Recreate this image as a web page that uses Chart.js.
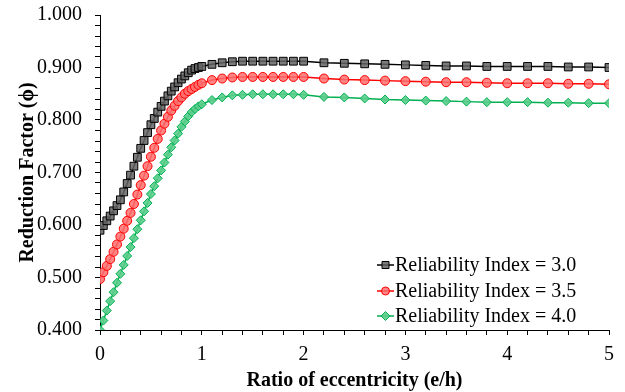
<!DOCTYPE html>
<html>
<head>
<meta charset="utf-8">
<script src="https://cdn.jsdelivr.net/npm/chart.js@4/dist/chart.umd.min.js"></script>
<style>
  html, body { margin: 0; padding: 0; background: #fff; }
  #wrap { width: 625px; height: 392px; position: relative; }
</style>
</head>
<body>
<div id="wrap"><canvas id="chart" width="625" height="392"></canvas></div>
<script>
// e/h values shared by all three curves
const eccentricity = [
  0, 0.033, 0.067, 0.1, 0.133, 0.167, 0.2, 0.233, 0.267, 0.3, 0.333, 0.367, 0.4, 0.433, 0.467, 0.5,
  0.533, 0.567, 0.6, 0.633, 0.667, 0.7, 0.733, 0.767, 0.8, 0.833, 0.867, 0.9, 0.933, 0.967, 1.0,
  1.1, 1.2, 1.3, 1.4, 1.5, 1.6, 1.7, 1.8, 1.9, 2.0,
  2.2, 2.4, 2.6, 2.8, 3.0, 3.2, 3.4, 3.6, 3.8, 4.0, 4.2, 4.4, 4.6, 4.8, 5.0
];

const beta30 = [
  0.590, 0.599, 0.608, 0.617, 0.627, 0.637, 0.648, 0.663, 0.679, 0.695, 0.712, 0.729, 0.746, 0.761, 0.776, 0.791,
  0.803, 0.815, 0.826, 0.836, 0.846, 0.855, 0.863, 0.871, 0.878, 0.884, 0.890, 0.895, 0.898, 0.900, 0.902,
  0.906, 0.909, 0.911, 0.912, 0.912, 0.912, 0.912, 0.912, 0.912, 0.912,
  0.909, 0.908, 0.907, 0.906, 0.905, 0.904, 0.903, 0.903, 0.902, 0.902, 0.902, 0.902, 0.901, 0.901, 0.900
];

const beta35 = [
  0.497, 0.510, 0.522, 0.535, 0.549, 0.563, 0.578, 0.593, 0.608, 0.623, 0.640, 0.658, 0.676, 0.694, 0.712, 0.730,
  0.747, 0.764, 0.780, 0.793, 0.806, 0.818, 0.827, 0.836, 0.843, 0.850, 0.855, 0.859, 0.863, 0.867, 0.870,
  0.876, 0.879, 0.881, 0.882, 0.882, 0.882, 0.882, 0.882, 0.882, 0.882,
  0.879, 0.877, 0.876, 0.875, 0.874, 0.873, 0.872, 0.872, 0.871, 0.870, 0.870, 0.870, 0.869, 0.869, 0.868
];

const beta40 = [
  0.400, 0.418, 0.437, 0.455, 0.472, 0.490, 0.507, 0.524, 0.541, 0.558, 0.575, 0.592, 0.609, 0.626, 0.642, 0.659,
  0.674, 0.689, 0.704, 0.719, 0.734, 0.748, 0.761, 0.774, 0.787, 0.797, 0.807, 0.815, 0.821, 0.826, 0.830,
  0.838, 0.843, 0.847, 0.848, 0.849, 0.849, 0.849, 0.849, 0.849, 0.848,
  0.844, 0.843, 0.841, 0.839, 0.838, 0.837, 0.836, 0.835, 0.834, 0.834, 0.834, 0.833, 0.833, 0.832, 0.832
];

const seriesLabels = ['Reliability Index = 3.0', 'Reliability Index = 3.5', 'Reliability Index = 4.0'];

const FONT = "'Liberation Serif', 'Times New Roman', serif";

function pts(ys) {
  return eccentricity.map((x, i) => ({ x: x, y: ys[i] }));
}

function isMajor(v, step) {
  const k = v / step;
  return Math.abs(k - Math.round(k)) < 1e-6;
}

// legend drawn inside the plot, bottom right
const insideLegend = {
  id: 'insideLegend',
  afterDraw(chart) {
    const ctx = chart.ctx;
    const x0 = 377, textX = 395;
    const rows = [265, 291, 316];
    ctx.save();
    chart.data.datasets.forEach((ds, i) => {
      const y = rows[i];
      ctx.strokeStyle = ds.borderColor;
      ctx.lineWidth = 1.5;
      ctx.beginPath();
      ctx.moveTo(x0, y);
      ctx.lineTo(x0 + 17, y);
      ctx.stroke();
      ctx.fillStyle = ds.pointBackgroundColor;
      ctx.strokeStyle = ds.pointBorderColor;
      ctx.lineWidth = 1;
      const cx = x0 + 8.5;
      ctx.beginPath();
      if (ds.pointStyle === 'rect') {
        ctx.rect(cx - 3.5, y - 3.5, 7, 7);
      } else if (ds.pointStyle === 'circle') {
        ctx.arc(cx, y, 4, 0, Math.PI * 2);
      } else {
        ctx.moveTo(cx, y - 4.5);
        ctx.lineTo(cx + 4.5, y);
        ctx.lineTo(cx, y + 4.5);
        ctx.lineTo(cx - 4.5, y);
        ctx.closePath();
      }
      ctx.fill();
      ctx.stroke();
      ctx.fillStyle = '#000';
      ctx.font = '20px ' + FONT;
      ctx.textBaseline = 'middle';
      ctx.textAlign = 'left';
      ctx.fillText(ds.label, textX, y + 1);
    });
    ctx.restore();
  }
};

const ctx = document.getElementById('chart').getContext('2d');
new Chart(ctx, {
  type: 'line',
  data: {
    datasets: [
      {
        label: seriesLabels[0],
        data: pts(beta30),
        borderColor: '#000000',
        borderWidth: 1.5,
        pointStyle: 'rect',
        pointRadius: 5.5,
        pointBackgroundColor: 'rgba(100,100,100,0.85)',
        pointBorderColor: '#000000',
        pointBorderWidth: 1
      },
      {
        label: seriesLabels[1],
        data: pts(beta35),
        borderColor: '#ff0000',
        borderWidth: 1.5,
        pointStyle: 'circle',
        pointRadius: 4.5,
        pointBackgroundColor: 'rgba(255,110,110,0.85)',
        pointBorderColor: '#ff0000',
        pointBorderWidth: 1
      },
      {
        label: seriesLabels[2],
        data: pts(beta40),
        borderColor: '#00b050',
        borderWidth: 1.5,
        pointStyle: 'rectRot',
        pointRadius: 4.5,
        pointBackgroundColor: 'rgba(90,205,140,0.9)',
        pointBorderColor: '#00b050',
        pointBorderWidth: 1
      }
    ]
  },
  options: {
    responsive: false,
    animation: false,
    devicePixelRatio: 1,
    layout: { padding: { left: 0, right: 16, top: 15, bottom: 0 } },
    plugins: {
      legend: { display: false },
      tooltip: { enabled: false }
    },
    scales: {
      x: {
        type: 'linear',
        min: 0,
        max: 5,
        afterFit: s => { s.height = 62; s.paddingLeft = 0; s.paddingRight = 0; },
        border: { display: true, color: '#000', width: 1 },
        grid: { drawOnChartArea: false, drawTicks: true, tickLength: 5, color: '#000' },
        ticks: {
          stepSize: 0.2,
          autoSkip: false,
          maxRotation: 0,
          maxTicksLimit: 100,
          padding: 8,
          color: '#000',
          font: { family: FONT, size: 20 },
          callback: v => isMajor(v, 1) ? String(Math.round(v)) : ''
        },
        title: {
          display: true,
          text: 'Ratio of eccentricity (e/h)',
          color: '#000',
          font: { family: FONT, size: 20, weight: 'bold' },
          padding: { top: 0, bottom: -1 }
        }
      },
      y: {
        min: 0.4,
        max: 1.0,
        afterFit: s => { s.width = 100; s.paddingTop = 0; s.paddingBottom = 0; },
        border: { display: true, color: '#000', width: 1 },
        grid: { drawOnChartArea: false, drawTicks: true, tickLength: 5, color: '#000' },
        ticks: {
          stepSize: 0.02,
          autoSkip: false,
          maxTicksLimit: 100,
          padding: 13,
          color: '#000',
          font: { family: FONT, size: 20 },
          callback: v => isMajor(v, 0.1) ? v.toFixed(3) : ''
        },
        title: {
          display: true,
          text: 'Reduction Factor (ϕ)',
          color: '#000',
          font: { family: FONT, size: 20, weight: 'bold' },
          padding: { top: 16, bottom: 0 }
        }
      }
    }
  },
  plugins: [insideLegend]
});
</script>
</body>
</html>
